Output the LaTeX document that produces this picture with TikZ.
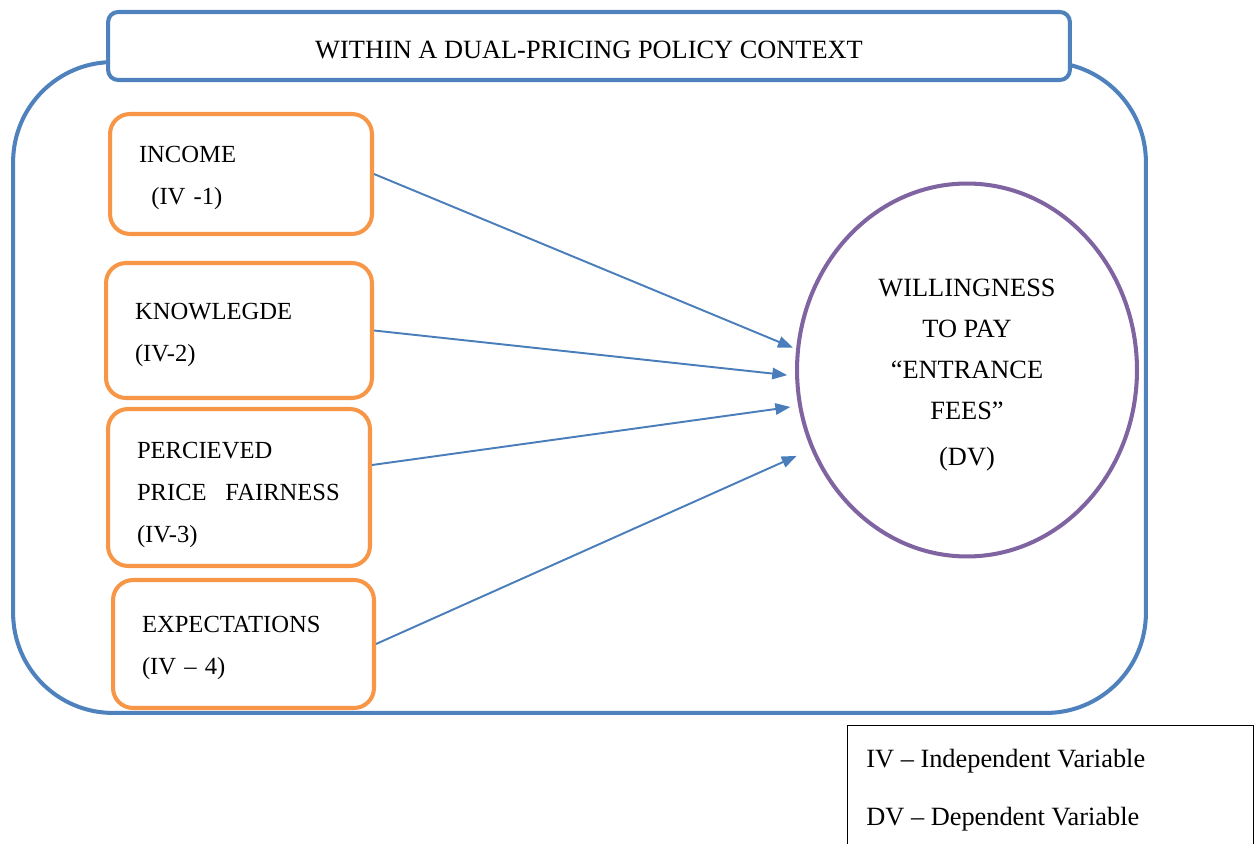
\documentclass[tikz,border=0pt]{standalone}
\usepackage{fontspec}
\setmainfont{Liberation Serif}
\definecolor{FrameBlue}{HTML}{4F81BD}
\definecolor{ArrowBlue}{HTML}{4A7EBB}
\definecolor{BoxOrange}{HTML}{F79646}
\definecolor{DVPurple}{HTML}{8064A2}
\usetikzlibrary{shapes.geometric, arrows.meta}
\tikzset{
    % Outer context frame
    context/.style={
        rectangle,
        draw=FrameBlue,
        line width=2.3pt,
        rounded corners=2cm
    },
    % Title banner
    banner/.style={
        rectangle,
        draw=FrameBlue,
        fill=white,
        line width=2.3pt,
        rounded corners=0.2cm,
        minimum width=19.24cm,
        minimum height=1.36cm,
        align=center,
        font=\fontsize{15}{18}\selectfont,
        execute at begin node={\rule{0pt}{14pt}}
    },
    % Independent variable box
    ivbox/.style={
        rectangle,
        draw=BoxOrange,
        fill=white,
        line width=2.3pt,
        rounded corners=0.4cm,
        inner sep=0pt,
        align=left,
        font=\fontsize{14}{23.9}\selectfont,
        execute at begin node={\rule{0pt}{14.3pt}}
    },
    % Dependent variable ellipse
    dvnode/.style={
        ellipse,
        draw=DVPurple,
        line width=2.3pt,
        inner sep=0pt,
        minimum width=6.8cm,
        minimum height=7.46cm,
        align=center,
        font=\fontsize{15}{23.3}\selectfont
    },
    % Arrow style
    arrow/.style={
        -{Triangle[length=8.5pt,width=6.5pt]},
        line width=1.1pt,
        color=ArrowBlue
    },
    % Key box
    keybox/.style={
        rectangle,
        draw=black,
        line width=0.6pt,
        minimum width=8.12cm,
        minimum height=2.9cm
    }
}

\begin{document}
\begin{tikzpicture}[x=0.02cm, y=-0.02cm]
    \useasboundingbox (0,0) rectangle (1256,844);
    \clip (0,0) rectangle (1256,844);

    % Context frame and its title
    \node (frame) [context, minimum width=22.66cm, minimum height=13.02cm] at (579.5,387.5) {};
    \node (ctx) [banner] at (589,46) {WITHIN A DUAL-PRICING POLICY CONTEXT};

    % Independent variables
    \node (inc) [ivbox, minimum width=5.24cm, minimum height=2.4cm, text width=4.08cm] at (241,174) {INCOME\\\hspace*{7pt}(IV -1)};
    \node (know) [ivbox, minimum width=5.32cm, minimum height=2.7cm, text width=4.16cm] at (239,330.5) {KNOWLEGDE\\(IV-2)};
    \node (fair) [ivbox, minimum width=5.24cm, minimum height=3.14cm, text width=4.08cm] at (239,487.5) {\rule{0pt}{18.3pt}PERCIEVED\\\mbox{PRICE\hspace{6pt} FAIRNESS}\\(IV-3)};
    \node (expect) [ivbox, minimum width=5.22cm, minimum height=2.56cm, text width=4.06cm] at (243.5,644) {EXPECTATIONS\\(IV -- 4)};

    % Dependent variable
    \node (wtp) [dvnode] at (967,370) {\rule{0pt}{16pt}WILLINGNESS\\TO PAY\\``ENTRANCE\\FEES''\\[3pt](DV)};

    \draw [arrow, shorten >=2pt] (inc.east) -- (wtp.173);
    \draw [arrow, shorten >=4.5pt] (know.east) -- (wtp.182);
    \draw [arrow, shorten >=4.5pt] ([yshift=0.45cm]fair.east) -- (wtp.192);
    \draw [arrow, shorten >=9pt] (expect.east) -- (wtp.207);

    % Key
    \node (key) [keybox, anchor=north west] at (847,725) {};
    \node (keytext) [anchor=north west, align=left, inner sep=0pt, font=\fontsize{15}{33}\selectfont] at (866,749) {IV -- Independent Variable\\DV -- Dependent Variable};
\end{tikzpicture}
\end{document}
